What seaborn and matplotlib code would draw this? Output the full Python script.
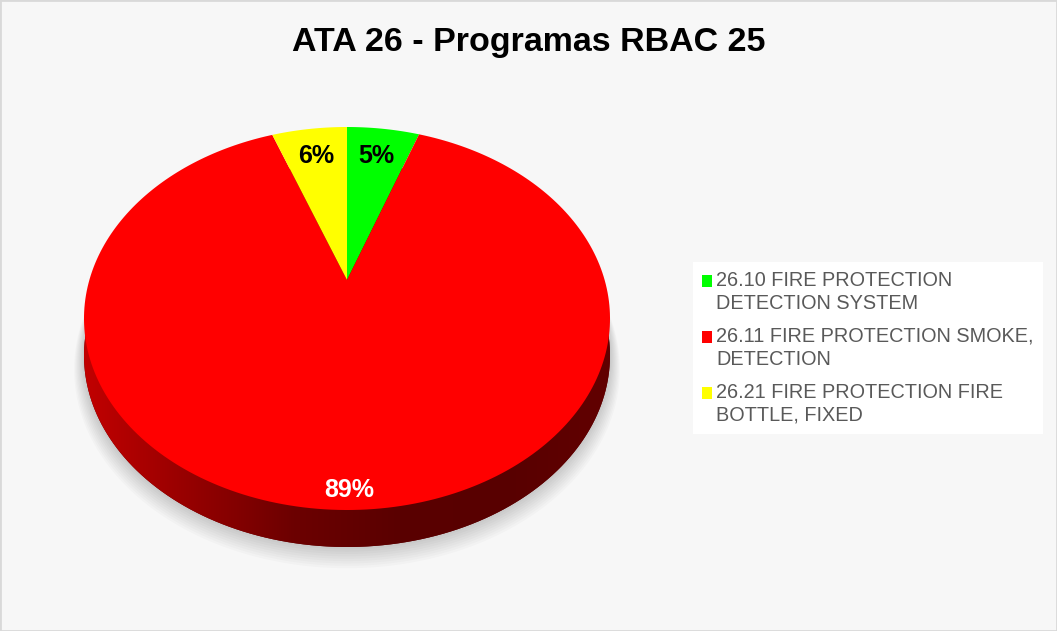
import numpy as np
import matplotlib
matplotlib.use('Agg')
import matplotlib.pyplot as plt
import matplotlib.patches as mpatches
import matplotlib.transforms as mtransforms
from matplotlib.path import Path
from matplotlib.colors import LinearSegmentedColormap
from matplotlib.legend_handler import HandlerPatch
import seaborn as sns

# dados do grafico
title = 'ATA 26 - Programas RBAC 25'
categories = ['26.10 FIRE PROTECTION\nDETECTION SYSTEM',
              '26.11 FIRE PROTECTION SMOKE,\nDETECTION',
              '26.21 FIRE PROTECTION FIRE\nBOTTLE, FIXED']
shares = [5.4, 89.0, 5.6]
colors = ['#00ff00', '#ff0000', '#ffff00']
pct_colors = ['black', 'white', 'black']

sns.set_theme(style='white')
plt.rcParams['font.family'] = ['Liberation Sans', 'DejaVu Sans']

W, H = 1057, 631
fig = plt.figure(figsize=(W / 100, H / 100), dpi=100)
fig.patch.set_facecolor('#f7f7f7')
ax = fig.add_axes([0, 0, 1, 1])


class Tilt(mtransforms.Transform):
    """perspective view of a flat unit pie (pixel space, y down)"""
    input_dims = output_dims = 2

    def __init__(self, cx, cy, k, b, c, dy=0.0):
        super().__init__()
        self.cx, self.cy, self.k, self.b, self.c, self.dy = cx, cy, k, b, c, dy

    def transform_non_affine(self, values):
        v = np.atleast_2d(np.asarray(values, float))
        w = 1 + self.c * v[:, 1]
        return np.column_stack([self.cx + self.k * v[:, 0] / w,
                                (self.cy + self.b * v[:, 1]) / w + self.dy])

    def transform_path_non_affine(self, path):
        polys = path.to_polygons(mtransforms.Affine2D().scale(1000), closed_only=True)
        return Path.make_compound_path(
            *[Path(self.transform_non_affine(p / 1000), closed=True) for p in polys])


# geometria da pizza 3D
cx, cy = 347, 280
top, front = 127, 510
rx = 263
depth = 37
c = (2 * cy - top - front) / (top - front)
b = top + top * c - cy
k = rx * np.sqrt(1 - c ** 2)

tilt = Tilt(cx, cy, k, b, c)

wedges, _, autotexts = ax.pie(shares, colors=colors, startangle=90, counterclock=False,
                              autopct='%1.0f%%', pctdistance=0.79,
                              wedgeprops=dict(linewidth=0),
                              textprops=dict(fontsize=18, fontweight='bold'))
for w in wedges:
    w.set_transform(tilt + ax.transData)
    w.set_zorder(3)
for t, col, s in zip(autotexts, pct_colors, shares):
    x, y = t.get_position()
    if s > 50:
        x, y = x * 0.93 / 0.79, y * 0.93 / 0.79
    t.set_position((x, y))
    t.set_transform(tilt + ax.transData)
    t.set_color(col)
    t.set_zorder(4)
    t.set_ha('center')
    t.set_va('center')

# sombra
for i in range(10):
    sh = mpatches.Circle((0, 0), 1.0 + 0.004 * i, facecolor='black', edgecolor='none',
                         alpha=0.018, zorder=1)
    sh.set_transform(Tilt(cx, cy, k, b, c, dy=depth + 1.2 * i) + ax.transData)
    ax.add_patch(sh)

# lateral (espessura)
band = mpatches.Circle((0, 0), 1.0, facecolor='#600000', edgecolor='none', zorder=2)
band.set_transform(Tilt(cx, cy, k, b, c, dy=depth) + ax.transData)
ax.add_patch(band)
side_cmap = LinearSegmentedColormap.from_list(
    'side', ['#c20000', '#960000', '#6c0000', '#5a0000', '#580000', '#620000'])
grad = np.linspace(0, 1, 256)[None, :]
im = ax.imshow(grad, cmap=side_cmap, aspect='auto', zorder=2.5,
               extent=(cx - rx - 2, cx + rx + 2, front + depth + 5, cy - 10))
im.set_clip_path(band)

ax.set_aspect('auto')
ax.set_xlim(0, W)
ax.set_ylim(H, 0)
ax.axis('off')

fig.text(529 / W, 1 - 51 / H, title, ha='center', va='baseline',
         fontsize=24.5, fontweight='bold', color='black')


# quadradinho da legenda alinhado com a primeira linha
def top_square(legend, orig_handle, xdescent, ydescent, width, height, fontsize):
    return mpatches.Rectangle((-xdescent, -ydescent + 0.57 * fontsize), width, height)


handles = [mpatches.Patch(facecolor=col, edgecolor='none') for col in colors]
leg = ax.legend(handles, categories, loc='upper left', bbox_to_anchor=(693 / W, 1 - 262 / H),
                bbox_transform=fig.transFigure, frameon=True, facecolor='white',
                edgecolor='none', fancybox=False, framealpha=1, fontsize=14.3,
                labelcolor='#595959', handlelength=0.52, handleheight=0.52,
                handletextpad=0.2, labelspacing=0.72, borderpad=0.45, borderaxespad=0,
                handler_map={mpatches.Patch: HandlerPatch(patch_func=top_square)})
for t in leg.get_texts():
    t.set_linespacing(1.25)

fig.add_artist(mpatches.Rectangle((0, 0), 1, 1, transform=fig.transFigure, fill=False,
                                  edgecolor='#d9d9d9', linewidth=2))

fig.savefig('out.png', dpi=100, facecolor=fig.get_facecolor())
